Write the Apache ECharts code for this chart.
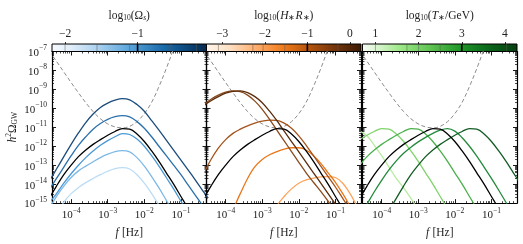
<!DOCTYPE html>
<html><head><meta charset="utf-8">
<script src="https://cdn.jsdelivr.net/npm/echarts@6/dist/echarts.min.js"></script>
<style>html,body{margin:0;padding:0;background:#fff}#c{width:523px;height:244px}</style>
</head><body><div id="c"></div>
<script>
// ---------- DATA (log10 of f [Hz] and log10 of h^2 Omega_GW) ----------
const logF = [-4.6,-4.4,-4.2,-4.0,-3.8,-3.6,-3.4,-3.2,-3.0,-2.8,-2.6,-2.4,-2.2,-2.0,-1.8,-1.6,-1.4,-1.2,-1.0,-0.8,-0.6,-0.4,-0.2];

const lisaPLS   = [-6.98,-7.52,-8.08,-8.64,-9.18,-9.7,-10.17,-10.55,-10.82,-10.98,-11.03,-10.95,-10.7,-10.28,-9.68,-8.85,-7.9,-6.85,-5.75,null,null,null,null];
const reference = [-14.75,-14.1,-13.5,-13.0,-12.55,-12.2,-11.9,-11.65,-11.42,-11.22,-11.07,-11.1,-11.35,-11.75,-12.25,-12.8,-13.4,-14.0,-14.65,-15.3,-16.0,-16.7,-17.4];

// Panel 1: varying Omega_s
const omegaS_a = [-16.3,-15.6,-14.95,-14.5,-14.18,-13.92,-13.7,-13.5,-13.32,-13.18,-13.13,-13.2,-13.5,-13.95,-14.5,-15.1,-15.7,-16.3,null,null,null,null,null];
const omegaS_b = [-15.3,-14.65,-14.1,-13.65,-13.3,-13.05,-12.82,-12.6,-12.42,-12.28,-12.23,-12.3,-12.6,-13.05,-13.6,-14.2,-14.85,-15.5,-16.2,null,null,null,null];
const omegaS_c = [-15.0,-14.5,-13.95,-13.45,-13.0,-12.6,-12.25,-11.95,-11.7,-11.5,-11.33,-11.38,-11.62,-12.0,-12.5,-13.05,-13.65,-14.25,-14.9,-15.55,-16.2,null,null];
const omegaS_d = [-14.3,-13.7,-13.1,-12.5,-11.95,-11.5,-11.1,-10.8,-10.58,-10.44,-10.38,-10.45,-10.7,-11.05,-11.5,-12.0,-12.5,-13.0,-13.5,-14.05,-14.6,-15.15,-15.7];
const omegaS_e = [-13.85,-13.2,-12.55,-11.9,-11.3,-10.75,-10.3,-9.95,-9.72,-9.57,-9.49,-9.55,-9.8,-10.15,-10.65,-11.15,-11.68,-12.2,-12.73,-13.26,-13.8,-14.35,-14.9];

// Panel 2: varying H*R*
const hr_a = [null,null,null,null,null,null,null,null,null,-16.0,-15.15,-14.65,-14.25,-13.95,-13.78,-13.68,-13.62,-13.6,-13.65,-13.95,-14.5,-15.2,-16.0];
const hr_b = [null,null,null,-16.2,-15.35,-14.5,-13.7,-13.08,-12.7,-12.45,-12.28,-12.15,-12.08,-12.08,-12.2,-12.5,-12.9,-13.4,-13.9,-14.5,-15.15,-15.8,-16.5];
const hr_c = [-13.45,-12.7,-12.1,-11.65,-11.32,-11.1,-10.92,-10.78,-10.68,-10.62,-10.63,-10.78,-11.05,-11.45,-11.95,-12.5,-13.05,-13.6,-14.15,-14.75,-15.35,-15.95,-16.55];
const hr_d = [-9.85,-9.6,-9.38,-9.2,-9.1,-9.08,-9.17,-9.38,-9.7,-10.15,-10.65,-11.2,-11.75,-12.3,-12.85,-13.4,-13.95,-14.5,-15.05,-15.6,-16.15,null,null];
const hr_e = [-9.8,-9.52,-9.3,-9.15,-9.08,-9.12,-9.3,-9.62,-10.05,-10.58,-11.15,-11.72,-12.28,-12.85,-13.4,-13.9,-14.38,-14.9,-15.45,null,null,null,null];

// Panel 3: varying T*
const T_a = [-11.2,-11.45,-11.95,-12.5,-13.1,-13.7,-14.2,-14.75,-15.35,-16.0,null,null,null,null,null,null,null,null,null,null,null,null,null];
const T_b = [-11.65,-11.42,-11.22,-11.07,-11.1,-11.35,-11.75,-12.25,-12.8,-13.4,-14.0,-14.65,-15.3,-16.0,null,null,null,null,null,null,null,null,null];
const T_c = [-13.0,-12.55,-12.2,-11.9,-11.65,-11.42,-11.22,-11.07,-11.1,-11.35,-11.75,-12.25,-12.8,-13.4,-14.0,-14.65,-15.3,-16.0,null,null,null,null,null];
const T_d = [-15.7,-15.05,-14.4,-13.8,-13.25,-12.77,-12.37,-12.05,-11.77,-11.53,-11.32,-11.15,-11.07,-11.2,-11.55,-12.0,-12.52,-13.1,-13.7,-14.32,-14.97,-15.65,null];
const T_e = [null,null,null,-16.1,-15.4,-14.75,-14.1,-13.5,-13.0,-12.55,-12.2,-11.9,-11.65,-11.42,-11.22,-11.07,-11.1,-11.35,-11.75,-12.25,-12.8,-13.4,-14.0];

// Colorbars
const cbRange = [[-2.18,-0.05],[-3.37,0.26],[0.70,4.28]];
const cbTicks = [[-2,-1],[-3,-2,-1,0],[1,2,3,4]];
const cbLines = [[-2.0,-1.56,-1.11,-0.54,-0.19],[-3.09,-2.28,-2.04,-1.53,-0.28],[1.0,1.73,2.0,2.5,4.04]];
const cbRef = [-1,-1,3];

// axis ticks
const xMajor=[-4,-3,-2,-1];
const yMajor=[-15,-14,-13,-12,-11,-10,-9,-8,-7];

// ---------- STYLE / LAYOUT ----------
const FONT='Liberation Serif';
const lefts=[52,206.5,362.5], W=154.5, TOP=51.5, H=155.5;
const XMIN=-4.523, XMAX=-0.301, YMIN=-15, YMAX=-7;
const xMinor=[], yMinor=[];
for(let n=-5;n<=-1;n++) for(let k=2;k<=9;k++){const v=n+Math.log10(k); if(v>XMIN&&v<XMAX) xMinor.push(v);}
for(let n=-15;n<=-8;n++) for(let k=2;k<=9;k++) yMinor.push(n+Math.log10(k));

const rich={
  b:{fontFamily:FONT,fontSize:11,color:'#222',lineHeight:14,verticalAlign:'bottom'},
  s:{fontFamily:FONT,fontSize:7.5,color:'#222',lineHeight:8,verticalAlign:'top'},
  i:{fontFamily:FONT,fontSize:11.5,fontStyle:'italic',color:'#222',lineHeight:14,verticalAlign:'bottom'},
  n:{fontFamily:FONT,fontSize:11.5,color:'#222',lineHeight:14,verticalAlign:'bottom'},
  sb:{fontFamily:FONT,fontSize:7.5,color:'#222',lineHeight:7,verticalAlign:'bottom'},
  sbi:{fontFamily:FONT,fontSize:7.5,fontStyle:'italic',color:'#222',lineHeight:7,verticalAlign:'bottom'},
  sp:{fontFamily:FONT,fontSize:7.5,color:'#222',lineHeight:8,verticalAlign:'top'}
};
const minus=v=>{const r=Math.round(v);return r<0?'\u2212'+(-r):''+r;};
const spine={show:true,onZero:false,lineStyle:{color:'#000',width:1.2}};
const noSplit={show:false};

const grids=[], xAxes=[], yAxes=[], series=[];
function addAxis(arr,o){arr.push(o);return arr.length-1;}

const panelX=[], panelY=[];
for(let p=0;p<3;p++){
  grids.push({left:lefts[p],top:TOP,width:W,height:H});
  const base={gridIndex:p,type:'value',splitLine:noSplit};
  const xa=addAxis(xAxes,{...base,min:XMIN,max:XMAX,position:'bottom',axisLine:spine,
    axisTick:{show:true,inside:true,length:4,customValues:xMajor,lineStyle:{color:'#000',width:0.9}},
    axisLabel:{show:true,customValues:xMajor,margin:4,formatter:v=>'{b|10}{s|'+minus(v)+'}',rich},
    name:'{i|f} {n|[Hz]}',nameLocation:'middle',nameGap:20,nameTextStyle:{rich}});
  addAxis(xAxes,{...base,min:XMIN,max:XMAX,position:'bottom',axisLine:{show:false,onZero:false},
    axisTick:{show:true,inside:true,length:2,customValues:xMinor,lineStyle:{color:'#000',width:0.7}},axisLabel:{show:false}});
  addAxis(xAxes,{...base,min:XMIN,max:XMAX,position:'top',axisLine:spine,
    axisTick:{show:true,inside:true,length:4,customValues:xMajor,lineStyle:{color:'#000',width:0.9}},axisLabel:{show:false}});
  addAxis(xAxes,{...base,min:XMIN,max:XMAX,position:'top',axisLine:{show:false,onZero:false},
    axisTick:{show:true,inside:true,length:2,customValues:xMinor,lineStyle:{color:'#000',width:0.7}},axisLabel:{show:false}});
  const ya=addAxis(yAxes,{...base,min:YMIN,max:YMAX,position:'left',axisLine:spine,
    axisTick:{show:true,inside:true,length:4,customValues:yMajor,lineStyle:{color:'#000',width:0.9}},
    axisLabel:{show:p===0,customValues:yMajor,margin:5,formatter:v=>'{b|10}{s|'+minus(v)+'}',rich},
    name:p===0?'{i|h}{sp|2}{n|\u03A9}{sb|GW}':'',nameLocation:'middle',nameGap:33,nameRotate:90,nameTextStyle:{rich}});
  addAxis(yAxes,{...base,min:YMIN,max:YMAX,position:'left',axisLine:{show:false,onZero:false},
    axisTick:{show:true,inside:true,length:2,customValues:yMinor,lineStyle:{color:'#000',width:0.7}},axisLabel:{show:false}});
  addAxis(yAxes,{...base,min:YMIN,max:YMAX,position:'right',axisLine:spine,
    axisTick:{show:true,inside:true,length:4,customValues:yMajor,lineStyle:{color:'#000',width:0.9}},axisLabel:{show:false}});
  addAxis(yAxes,{...base,min:YMIN,max:YMAX,position:'right',axisLine:{show:false,onZero:false},
    axisTick:{show:true,inside:true,length:2,customValues:yMinor,lineStyle:{color:'#000',width:0.7}},axisLabel:{show:false}});
  panelX.push(xa); panelY.push(ya);
}

function line(p,vals,color,opts){
  series.push(Object.assign({type:'line',xAxisIndex:panelX[p],yAxisIndex:panelY[p],
    data:logF.map((x,i)=>[x,vals[i]]),showSymbol:false,symbol:'none',smooth:0.35,clip:true,
    connectNulls:false,silent:true,z:3,
    lineStyle:{color:color,width:1.3}},opts||{}));
}
const dashed={lineStyle:{color:'#8c8c8c',width:1,type:[4,2.5]},z:2};

// panel 1
line(0,lisaPLS,null,dashed);
line(0,omegaS_a,'#bcdcf4'); line(0,omegaS_b,'#7db9e6'); line(0,omegaS_c,'#4a98d4');
line(0,omegaS_d,'#2a70ad'); line(0,omegaS_e,'#1b4c7c');
line(0,reference,'#000',{z:4});
// panel 2
line(1,lisaPLS,null,dashed);
line(1,hr_a,'#fda45a'); line(1,hr_b,'#e8771a'); line(1,hr_c,'#a5531a'); line(1,hr_e,'#8a4a1c'); line(1,hr_d,'#5a2c0c');
line(1,reference,'#000',{z:4});
// panel 3
line(2,lisaPLS,null,dashed);
line(2,T_a,'#b6eca0'); line(2,T_b,'#7fd36b'); line(2,T_c,'#4bb04b'); line(2,T_d,'#238a3c'); line(2,T_e,'#135c24');
line(2,reference,'#000',{z:4});

// colorbars
const cbStops=[
  [[0,'#f7fbff'],[0.12,'#e2eefa'],[0.3,'#a9d0ef'],[0.5,'#5aa5dc'],[0.7,'#1f6fae'],[0.85,'#0d4c82'],[1,'#08284a']],
  [[0,'#fff5eb'],[0.15,'#fde0c4'],[0.35,'#fda55e'],[0.5,'#ef7a1a'],[0.65,'#b8560e'],[0.8,'#7e3a0c'],[1,'#3a1a05']],
  [[0,'#f7fcf5'],[0.1,'#d9f5cf'],[0.25,'#9be886'],[0.45,'#5cc150'],[0.62,'#239a2b'],[0.8,'#0b6a1c'],[1,'#073d10']]
];
const cbNames=['{n|log}{sb|10}{n|(\u03A9}{sbi|s}{n|)}','{n|log}{sb|10}{n|(}{i|H}{sb|\u2217}{i|R}{sb|\u2217}{n|)}','{n|log}{sb|10}{n|(}{i|T}{sb|\u2217}{n|/GeV)}'];
for(let p=0;p<3;p++){
  const g=grids.length;
  grids.push({left:lefts[p],top:44,width:W,height:7.5});
  const xa=addAxis(xAxes,{gridIndex:g,type:'value',min:cbRange[p][0],max:cbRange[p][1],position:'top',
    axisLine:{show:false,onZero:false},splitLine:noSplit,
    axisTick:{show:true,inside:false,length:2,customValues:cbTicks[p],lineStyle:{color:'#000',width:0.8}},
    axisLabel:{show:true,customValues:cbTicks[p],margin:4,formatter:v=>'{n|'+minus(v)+'}',rich},
    name:cbNames[p],nameLocation:'middle',nameGap:22,nameTextStyle:{rich}});
  const ya=addAxis(yAxes,{gridIndex:g,type:'value',min:0,max:1,show:false});
  const stops=cbStops[p].map(s=>({offset:s[0],color:s[1]}));
  series.push({type:'custom',xAxisIndex:xa,yAxisIndex:ya,silent:true,data:[[cbRange[p][0],cbRange[p][1]]],
    renderItem:(params,api)=>{const a=api.coord([api.value(0),0]),b=api.coord([api.value(1),1]);
      return {type:'rect',shape:{x:a[0],y:b[1],width:b[0]-a[0],height:a[1]-b[1]},
        style:{fill:new echarts.graphic.LinearGradient(0,0,1,0,stops),stroke:'#000',lineWidth:1}};}});
  series.push({type:'custom',xAxisIndex:xa,yAxisIndex:ya,silent:true,z:3,data:cbLines[p].map(v=>[v]),
    renderItem:(params,api)=>{const a=api.coord([api.value(0),0]),b=api.coord([api.value(0),1]);
      return {type:'line',shape:{x1:a[0],y1:a[1],x2:b[0],y2:b[1]},style:{stroke:'rgba(90,90,90,0.7)',lineWidth:0.7}};}});
  series.push({type:'custom',xAxisIndex:xa,yAxisIndex:ya,silent:true,z:4,data:[[cbRef[p]]],
    renderItem:(params,api)=>{const a=api.coord([api.value(0),0]),b=api.coord([api.value(0),1]);
      return {type:'line',shape:{x1:a[0],y1:a[1],x2:b[0],y2:b[1]},style:{stroke:'#000',lineWidth:1.6}};}});
}

const chart=echarts.init(document.getElementById('c'),null,{renderer:'canvas'});
chart.setOption({animation:false,backgroundColor:'#fff',grid:grids,xAxis:xAxes,yAxis:yAxes,series:series});
</script></body></html>
